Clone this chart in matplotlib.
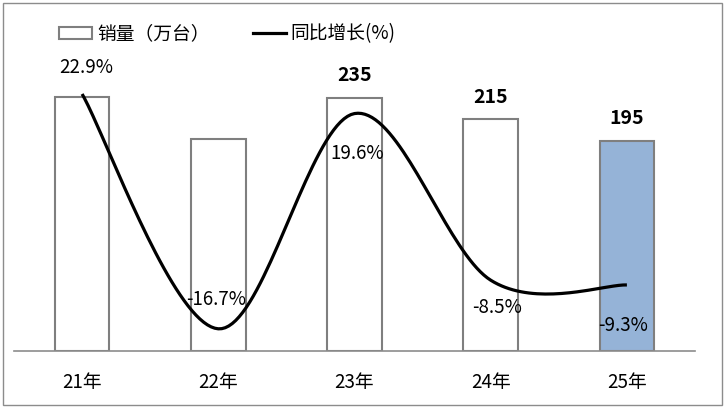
import numpy as np
import matplotlib
matplotlib.use("Agg")
import matplotlib.pyplot as plt
from matplotlib.patches import Patch, Rectangle
from matplotlib.lines import Line2D

plt.rcParams['font.family'] = ['Noto Sans CJK SC', 'DejaVu Sans']

years = ['21年', '22年', '23年', '24年', '25年']
sales = [236, 197, 235, 215, 195]          # 销量（万台）
growth = [22.9, -16.7, 19.6, -8.5, -9.3]   # 同比增长(%)
shown_sales = [False, False, True, True, True]


def smooth(xs, ys, n=40):
    # catmull-rom style bezier through the points, like excel's smoothed line
    xs = np.asarray(xs, float)
    ys = np.asarray(ys, float)
    pts = np.column_stack([xs, ys])
    out = []
    for i in range(len(pts) - 1):
        p0 = pts[max(i - 1, 0)]
        p1 = pts[i]
        p2 = pts[i + 1]
        p3 = pts[min(i + 2, len(pts) - 1)]
        c1 = p1 + (p2 - p0) / 6
        c2 = p2 - (p3 - p1) / 6
        t = np.linspace(0, 1, n)[:, None]
        seg = ((1 - t) ** 3) * p1 + 3 * ((1 - t) ** 2) * t * c1 + 3 * (1 - t) * t ** 2 * c2 + t ** 3 * p2
        out.append(seg if i == 0 else seg[1:])
    out = np.vstack(out)
    return out[:, 0], out[:, 1]


fs = 13.5

fig = plt.figure(figsize=(7.25, 4.08), dpi=100)
ax = fig.add_axes([14 / 725, 57.3 / 408, 681 / 725, 305.7 / 408])
ax2 = ax.twinx()

x = np.arange(len(years))
colors = ['white'] * 4 + ['#95b3d7']
ax.bar(x, sales, width=0.4, color=colors, edgecolor='#7f7f7f', linewidth=1.5, zorder=2)
ax.set_xlim(-0.5, len(years) - 0.5)
ax.set_ylim(0, 284)

for xi, v, s in zip(x, sales, shown_sales):
    if s:
        ax.annotate(str(v), (xi, v), xytext=(0, 22), textcoords='offset pixels',
                    ha='center', va='center', fontsize=14, fontweight='bold')

sx, sy = smooth(x, growth)
ax2.plot(sx, sy, color='black', linewidth=2.3, solid_capstyle='butt', zorder=3)
ax2.set_ylim(-20.39, 31.16)

label_offsets = [(4, 26), (-2, 29), (3, -40), (6, -27), (-4, -41)]
for xi, g, off in zip(x, growth, label_offsets):
    ax2.annotate(f'{g:.1f}%', (xi, g), xytext=off, textcoords='offset pixels',
                 ha='center', va='center', fontsize=fs)

for a in (ax, ax2):
    for side in ('top', 'left', 'right'):
        a.spines[side].set_visible(False)
    a.set_yticks([])
ax2.spines['bottom'].set_visible(False)
ax.spines['bottom'].set_color('#8c8c8c')
ax.spines['bottom'].set_linewidth(1.2)
ax.set_xticks(x)
ax.set_xticklabels(years, fontsize=fs)
ax.tick_params(axis='x', length=0, pad=15)

handles = [Patch(facecolor='white', edgecolor='#7f7f7f', linewidth=1.5),
           Line2D([], [], color='black', linewidth=2.3)]
fig.legend(handles, ['销量（万台）', '同比增长(%)'], loc='center left',
           bbox_to_anchor=(59 / 725, 1 - 34 / 408), ncol=2, frameon=False,
           fontsize=fs, handlelength=1.76, handleheight=0.55, handletextpad=0.27,
           columnspacing=2.3, borderpad=0, borderaxespad=0)

fig.patches.append(Rectangle((3 / 725, 3 / 408), 719 / 725, 402 / 408,
                             transform=fig.transFigure, fill=False,
                             edgecolor='#8c8c8c', linewidth=1))

fig.savefig('out.png', dpi=100)
